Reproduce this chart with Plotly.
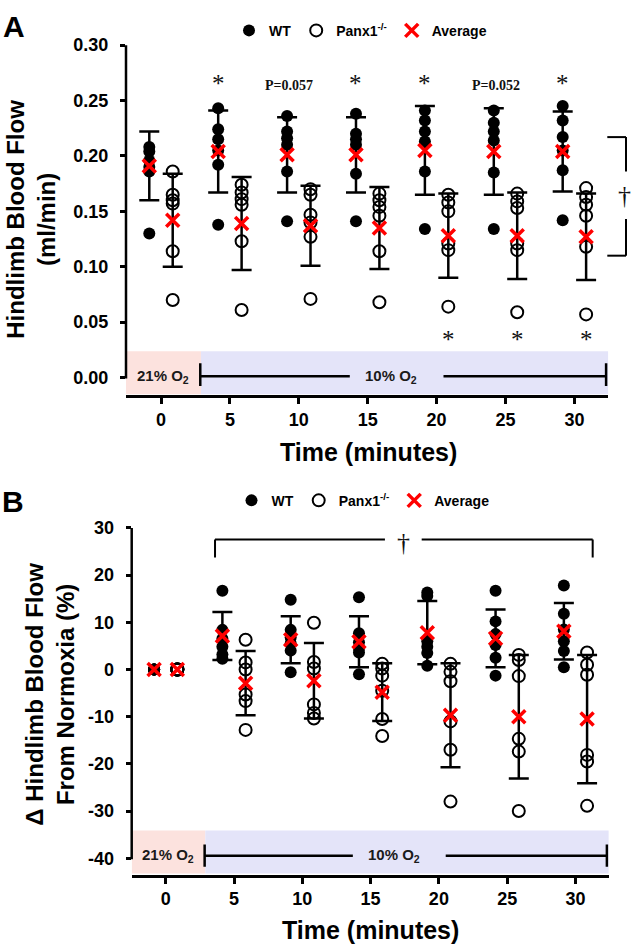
import plotly.graph_objects as go

W, H = 633, 948

# ---------------- data ----------------
times = [0, 5, 10, 15, 20, 25, 30]
time_tick_labels = ['0', '5', '10', '15', '20', '25', '30']

# Panel A: hindlimb blood flow (ml/min), individual animals per time point
wt_flow = [
    [0.208, 0.204, 0.196, 0.190, 0.186, 0.130],
    [0.243, 0.224, 0.215, 0.205, 0.192, 0.138],
    [0.236, 0.222, 0.216, 0.210, 0.186, 0.141],
    [0.238, 0.220, 0.215, 0.210, 0.184, 0.141],
    [0.241, 0.232, 0.222, 0.213, 0.186, 0.134],
    [0.241, 0.230, 0.222, 0.214, 0.185, 0.134],
    [0.245, 0.232, 0.217, 0.205, 0.187, 0.142],
]
panx_flow = [
    [0.186, 0.165, 0.160, 0.157, 0.114, 0.070],
    [0.174, 0.167, 0.161, 0.156, 0.123, 0.061],
    [0.170, 0.165, 0.147, 0.140, 0.127, 0.071],
    [0.166, 0.160, 0.154, 0.146, 0.114, 0.068],
    [0.165, 0.158, 0.150, 0.121, 0.115, 0.064],
    [0.166, 0.159, 0.153, 0.121, 0.115, 0.059],
    [0.171, 0.163, 0.156, 0.146, 0.118, 0.057],
]
wt_flow_mean = [0.191, 0.204, 0.201, 0.201, 0.205, 0.204, 0.204]
wt_flow_sd = [0.031, 0.037, 0.034, 0.034, 0.040, 0.039, 0.036]
panx_flow_mean = [0.142, 0.139, 0.137, 0.135, 0.128, 0.128, 0.127]
panx_flow_sd = [0.042, 0.042, 0.036, 0.037, 0.038, 0.039, 0.039]

# Panel B: change in hindlimb blood flow from normoxia (%)
wt_delta = [
    [0, 0, 0, 0, 0, 0],
    [16.7, 8.4, 6.5, 4.8, 3.2, 2.3],
    [14.8, 8.4, 6.8, 5.5, 4.0, -0.6],
    [15.3, 7.7, 5.8, 4.5, 3.6, -1.0],
    [16.3, 15.6, 6.0, 4.8, 3.5, 0.8],
    [16.7, 10.2, 7.5, 5.2, 2.5, -1.3],
    [17.8, 11.8, 8.5, 6.0, 3.9, 0.5],
]
panx_delta = [
    [0, 0, 0, 0, 0, 0],
    [6.3, 1.5, 0.0, -5.3, -6.7, -12.8],
    [9.9, 1.6, 0.2, -7.4, -9.2, -10.4],
    [1.2, 0.2, -1.3, -4.5, -10.5, -14.1],
    [1.2, -0.5, -2.5, -11.0, -17.0, -28.0],
    [3.1, 2.0, -1.4, -14.7, -17.4, -30.0],
    [3.6, 1.0, -1.1, -18.1, -19.5, -28.9],
]
wt_delta_mean = [0, 7.1, 6.3, 5.9, 7.8, 6.6, 8.1]
wt_delta_sd = [0, 5.1, 5.0, 5.4, 6.7, 6.1, 6.0]
panx_delta_mean = [0, -2.9, -2.4, -4.8, -9.7, -10.0, -10.5]
panx_delta_sd = [0, 6.8, 8.0, 6.1, 11.0, 13.1, 13.6]

flow_ticks = [0, 0.05, 0.10, 0.15, 0.20, 0.25, 0.30]
flow_tick_labels = ['0.00', '0.05', '0.10', '0.15', '0.20', '0.25', '0.30']
delta_ticks = [-40, -30, -20, -10, 0, 10, 20, 30]
delta_tick_labels = ['-40', '-30', '-20', '-10', '0', '10', '20', '30']

# significance labels (panel A)
flow_top_times = [5, 10, 15, 20, 25, 30]
flow_top_labels = ['*', 'P=0.057', '*', '*', 'P=0.052', '*']
flow_bottom_times = [20, 25, 30]
flow_bottom_labels = ['*', '*', '*']

# ---------------- layout constants ----------------
SANS = 'Liberation Sans, Arial, sans-serif'
SERIF = 'Liberation Serif, Times New Roman, serif'
WT_OFF, PX_OFF = -0.85, 0.85

A_DOM_X = [126 / W, 608.3 / W]
A_DOM_Y = [1 - 389.3 / H, 1 - 35.5 / H]
A_RX = [-2.54, 32.46]
A_RY = [-0.0159, 0.30]

B_DOM_X = [131.7 / W, 608.8 / W]
B_DOM_Y = [1 - 874.3 / H, 1 - 523.5 / H]
B_RX = [-2.49, 32.44]
B_RY = [-43.58, 30]

PINK = 'rgb(252,226,222)'
BLUE = 'rgb(228,228,249)'


def ymap(v, dom, rng):
    return dom[0] + (v - rng[0]) / (rng[1] - rng[0]) * (dom[1] - dom[0])


fig = go.Figure()


def add_panel(xa, ya, wt_vals, px_vals, wt_m, wt_s, px_m, px_s, legend):
    for m, s, off in ((wt_m, wt_s, WT_OFF), (px_m, px_s, PX_OFF)):
        idx = [i for i in range(len(times)) if s[i] > 0]
        fig.add_trace(go.Scatter(
            x=[times[i] + off for i in idx], y=[m[i] for i in idx],
            mode='markers', marker=dict(size=1, opacity=0),
            error_y=dict(type='data', array=[s[i] for i in idx], color='black',
                         thickness=2.5, width=10),
            xaxis=xa, yaxis=ya, showlegend=False, hoverinfo='skip'))
    xs, ys = [], []
    for t, vals in zip(times, wt_vals):
        xs += [t + WT_OFF] * len(vals)
        ys += vals
    fig.add_trace(go.Scatter(
        x=xs, y=ys, mode='markers', name='WT',
        marker=dict(symbol='circle', size=12, color='black'),
        xaxis=xa, yaxis=ya, legend=legend))
    xs, ys = [], []
    for t, vals in zip(times, px_vals):
        xs += [t + PX_OFF] * len(vals)
        ys += vals
    fig.add_trace(go.Scatter(
        x=xs, y=ys, mode='markers', name='Panx1<sup>-/-</sup>',
        marker=dict(symbol='circle-open', size=12, color='black',
                    line=dict(width=2, color='black')),
        xaxis=xa, yaxis=ya, legend=legend))
    fig.add_trace(go.Scatter(
        x=[t + WT_OFF for t in times] + [t + PX_OFF for t in times],
        y=list(wt_m) + list(px_m), mode='markers', name='Average',
        marker=dict(symbol='x-thin', size=13, color='red',
                    line=dict(width=3.5, color='red')),
        xaxis=xa, yaxis=ya, legend=legend))


add_panel('x', 'y', wt_flow, panx_flow, wt_flow_mean, wt_flow_sd,
          panx_flow_mean, panx_flow_sd, 'legend')
add_panel('x2', 'y2', wt_delta, panx_delta, wt_delta_mean, wt_delta_sd,
          panx_delta_mean, panx_delta_sd, 'legend2')

tickfont = dict(family=SANS, size=18, color='black', weight='bold')
xcommon = dict(tickvals=times, ticktext=time_tick_labels, ticks='outside',
               ticklen=6, tickwidth=2.5, tickcolor='black', showline=True,
               linewidth=2.5, linecolor='black', showgrid=False, zeroline=False,
               tickfont=tickfont, ticklabelstandoff=0)
ycommon = dict(ticks='outside', ticklen=5, tickwidth=2.5, tickcolor='black',
               showline=False, showgrid=False, zeroline=False,
               tickfont=tickfont, ticklabelstandoff=8)

legfont = dict(family=SANS, size=14, color='black', weight='bold')
fig.update_layout(
    width=W, height=H, autosize=False,
    margin=dict(l=0, r=0, t=0, b=0, pad=0),
    paper_bgcolor='white', plot_bgcolor='white',
    xaxis=dict(domain=A_DOM_X, range=A_RX, anchor='y', **xcommon),
    yaxis=dict(domain=A_DOM_Y, range=A_RY, anchor='x', tickvals=flow_ticks,
               ticktext=flow_tick_labels, **ycommon),
    xaxis2=dict(domain=B_DOM_X, range=B_RX, anchor='y2', **xcommon),
    yaxis2=dict(domain=B_DOM_Y, range=B_RY, anchor='x2', tickvals=delta_ticks,
                ticktext=delta_tick_labels, **ycommon),
    legend=dict(orientation='h', x=(251 - 22) / W, y=1 - 21 / H,
                xanchor='left', yanchor='middle', font=legfont,
                bgcolor='rgba(0,0,0,0)', traceorder='normal'),
    legend2=dict(orientation='h', x=(253.5 - 22) / W, y=1 - 496 / H,
                 xanchor='left', yanchor='middle', font=legfont,
                 bgcolor='rgba(0,0,0,0)', traceorder='normal'),
    showlegend=True,
)

shapes = []
ann = []


def note(**kw):
    kw.setdefault('showarrow', False)
    kw.setdefault('xanchor', 'center')
    kw.setdefault('yanchor', 'middle')
    ann.append(kw)


# O2 bands, brackets, axis lines for both panels
for xa, ya, dx, dy, rx, ry, band_y, line_y, tick_y, ytop, ybot in (
        ('x', 'y', A_DOM_X, A_DOM_Y, A_RX, A_RY, (-0.015, 0.0237), 0.0013,
         (-0.0076, 0.0129), 0.30, 0.0),
        ('x2', 'y2', B_DOM_X, B_DOM_Y, B_RX, B_RY, (-43.25, -34.14), -39.5,
         (-41.84, -37.08), 30, -40)):
    shapes.append(dict(type='rect', xref=xa, yref=ya, x0=rx[0], x1=2.9,
                       y0=band_y[0], y1=band_y[1], fillcolor=PINK,
                       line=dict(width=0), layer='below'))
    shapes.append(dict(type='rect', xref=xa, yref=ya, x0=2.9, x1=rx[1],
                       y0=band_y[0], y1=band_y[1], fillcolor=BLUE,
                       line=dict(width=0), layer='below'))
    for x0, x1 in ((2.85, 13.7), (20.5, 32.3)):
        shapes.append(dict(type='line', xref=xa, yref=ya, x0=x0, x1=x1,
                           y0=line_y, y1=line_y,
                           line=dict(color='black', width=2.5)))
    for xv in (2.85, 32.3):
        shapes.append(dict(type='line', xref=xa, yref=ya, x0=xv, x1=xv,
                           y0=tick_y[0], y1=tick_y[1],
                           line=dict(color='black', width=2.5)))
    note(xref=xa, yref=ya, x=0.15, y=line_y, text='21% O<sub>2</sub>',
         font=dict(family=SANS, size=15, color='#1a1a1a', weight='bold'))
    note(xref=xa, yref=ya, x=16.7, y=line_y, text='10% O<sub>2</sub>',
         font=dict(family=SANS, size=15, color='#1a1a1a', weight='bold'))
    # y axis line (from lowest to highest tick)
    shapes.append(dict(type='line', xref='paper', yref='paper',
                       x0=dx[0], x1=dx[0], y0=ymap(ybot, dy, ry) - 1 / H,
                       y1=ymap(ytop, dy, ry),
                       line=dict(color='black', width=2.5)))

# significance marks panel A
for t, lab in zip(flow_top_times, flow_top_labels):
    if lab == '*':
        note(xref='x', yref='y', x=t + WT_OFF, y=0.264, text='*', yshift=2,
             font=dict(family=SERIF, size=25, color='#111'))
    else:
        note(xref='x', yref='y', x=t - 0.7, y=0.264, text=lab,
             font=dict(family=SERIF, size=14, color='#111', weight='bold'))
for t, lab in zip(flow_bottom_times, flow_bottom_labels):
    note(xref='x', yref='y', x=t + PX_OFF, y=0.0326, text=lab, yshift=2,
         font=dict(family=SERIF, size=25, color='#111'))

# right bracket with dagger (panel A)
bx0, bx1 = 607.3 / W, 626 / W
for ya0, ya1 in ((0.217, 0.186), (0.143, 0.110)):
    shapes.append(dict(type='line', xref='paper', yref='paper', x0=bx1, x1=bx1,
                       y0=ymap(ya0, A_DOM_Y, A_RY), y1=ymap(ya1, A_DOM_Y, A_RY),
                       line=dict(color='black', width=2)))
for yv in (0.217, 0.110):
    shapes.append(dict(type='line', xref='paper', yref='paper', x0=bx0, x1=bx1,
                       y0=ymap(yv, A_DOM_Y, A_RY), y1=ymap(yv, A_DOM_Y, A_RY),
                       line=dict(color='black', width=2)))
note(xref='paper', yref='paper', x=624 / W, y=ymap(0.1645, A_DOM_Y, A_RY),
     text='†', font=dict(family=SERIF, size=26, color='#111'))

# top bracket with dagger (panel B)
shapes.append(dict(type='line', xref='x2', yref='y2', x0=3.61, x1=3.61,
                   y0=23.74, y1=27.58, line=dict(color='black', width=2)))
shapes.append(dict(type='line', xref='x2', yref='y2', x0=31.26, x1=31.26,
                   y0=23.74, y1=27.58, line=dict(color='black', width=2)))
shapes.append(dict(type='line', xref='x2', yref='y2', x0=3.61, x1=16.05,
                   y0=27.58, y1=27.58, line=dict(color='black', width=2)))
shapes.append(dict(type='line', xref='x2', yref='y2', x0=18.74, x1=31.26,
                   y0=27.58, y1=27.58, line=dict(color='black', width=2)))
note(xref='x2', yref='y2', x=17.4, y=27.0, text='†',
     font=dict(family=SERIF, size=26, color='#111'))

# axis titles and panel letters
title_font = dict(family=SANS, size=25, color='black', weight='bold')
ytitle_font = dict(family=SANS, size=24, color='black', weight='bold')
note(xref='paper', yref='paper', x=368 / W, y=1 - 446.7 / H,
     text='Time (minutes)', font=title_font)
note(xref='paper', yref='paper', x=370 / W, y=1 - 930 / H,
     text='Time (minutes)', font=title_font)
note(xref='paper', yref='paper', x=31 / W, y=1 - 212 / H,
     text='Hindlimb Blood Flow<br>(ml/min)', textangle=-90, font=ytitle_font)
note(xref='paper', yref='paper', x=50 / W, y=1 - 692 / H,
     text='Δ Hindlimb Blood Flow<br>From Normoxia (%)', textangle=-90,
     font=ytitle_font)
note(xref='paper', yref='paper', x=14 / W, y=1 - 17 / H, text='A',
     font=dict(family=SANS, size=30, color='black', weight='bold'))
note(xref='paper', yref='paper', x=13 / W, y=1 - 497 / H, text='B',
     font=dict(family=SANS, size=30, color='black', weight='bold'))

fig.update_layout(shapes=shapes, annotations=ann)
fig.write_html('out.html',
               config={'displayModeBar': False},
               post_script="document.body.style.margin='0';"
                           "document.body.style.overflow='hidden';")
